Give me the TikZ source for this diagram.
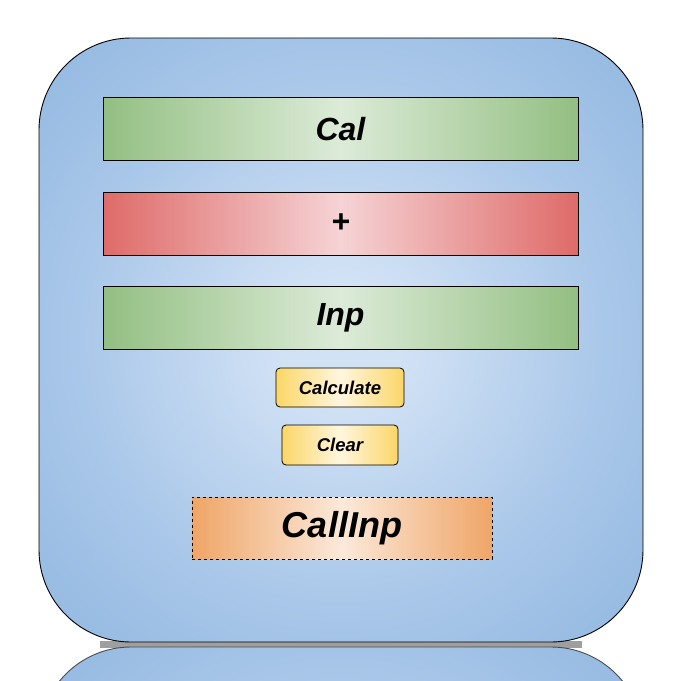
\documentclass[tikz,border=0pt]{standalone}
\usepackage{fontspec}
\setmainfont{Liberation Sans}
\usetikzlibrary{positioning}

\definecolor{panelIn}{HTML}{D2E2F5}
\definecolor{panelMid}{HTML}{A9C7E9}
\definecolor{panelRim}{HTML}{87B0DC}
\definecolor{panelOut}{HTML}{7AA6D6}
\definecolor{greenEdge}{HTML}{93BF82}
\definecolor{greenMid}{HTML}{DCEBD8}
\definecolor{redEdge}{HTML}{DE6B69}
\definecolor{redMid}{HTML}{F6D3D5}
\definecolor{yellowEdge}{HTML}{FBD667}
\definecolor{yellowMid}{HTML}{FFF6DE}
\definecolor{orangeEdge}{HTML}{EFA567}
\definecolor{orangeMid}{HTML}{FCE9DA}

\pgfdeclareradialshading{panelglow}{\pgfpointorigin}{color(0bp)=(panelIn); color(5bp)=(panelIn);
  color(22bp)=(panelMid); color(42bp)=(panelRim); color(50bp)=(panelOut)}

\begin{document}
\begin{tikzpicture}[x=1pt, y=-1pt,
panel/.style={draw=black, line width=0.9pt, rounded corners=92pt, shading=panelglow,
  minimum width=604pt, minimum height=604pt, inner sep=0pt},
bar/.style={draw=black, line width=0.8pt, minimum width=475pt, minimum height=63pt, inner sep=0pt,
  font=\fontsize{32}{34}\selectfont\bfseries\itshape},
greenbar/.style={bar, left color=greenEdge, right color=greenEdge, middle color=greenMid},
redbar/.style={bar, left color=redEdge, right color=redEdge, middle color=redMid},
button/.style={draw=black, line width=0.8pt, rounded corners=4pt, inner sep=0pt,
  left color=yellowEdge, right color=yellowEdge, middle color=yellowMid,
  font=\fontsize{18.5}{20}\selectfont\bfseries\itshape},
outbox/.style={draw=black, line width=0.6pt, dashed, inner sep=0pt, minimum width=300pt, minimum height=62pt,
  left color=orangeEdge, right color=orangeEdge, middle color=orangeMid,
  font=\fontsize{36}{38}\selectfont\bfseries\itshape}]

\useasboundingbox (0,0) rectangle (681,681);

% REFLECTION
\begin{scope}
\clip (0,0) rectangle (681,681);
\fill[gray!75] (100,641) rectangle (582,648);
\node[panel, draw=black!70] (mirror) at (341,949) {};
\end{scope}

% MAIN PANEL
\node[panel] (panel) at (341,340) {};

% bars
\node[greenbar] (cal) at (340.5,129) {Cal};
\node[redbar] (plus) at (340.5,223.5) {+};
\node[greenbar] (inp) at (340.5,317.5) {Inp};

% buttons
\node[button, minimum width=128pt, minimum height=39pt] (calculate) at (340,387.5) {Calculate};
\node[button, minimum width=116pt, minimum height=40pt] (clear) at (340,445) {Clear};

% output
\node[outbox] (callinp) at (342,528) {CallInp};

\end{tikzpicture}
\end{document}
